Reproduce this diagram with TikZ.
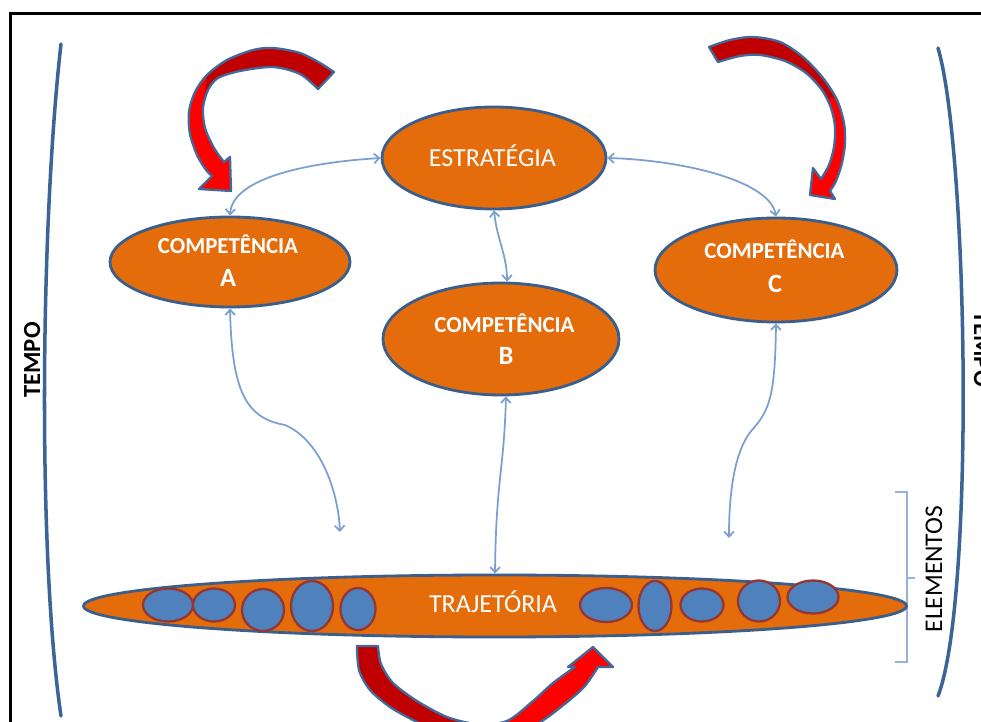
\documentclass[tikz,border=0pt]{standalone}
\usepackage{fontspec}
\setmainfont{Carlito}
\usetikzlibrary{shapes.geometric,arrows.meta,calc}

\definecolor{orangefill}{HTML}{E46C0A}
\definecolor{nodeborder}{HTML}{3A5F8C}
\definecolor{linkblue}{HTML}{7AA0D2}
\definecolor{bracketblue}{HTML}{3B6597}
\definecolor{elemblue}{HTML}{95B3D7}
\definecolor{dotfill}{HTML}{4F81BD}
\definecolor{dotborder}{HTML}{943634}
\definecolor{arrowred}{HTML}{FF0000}
\definecolor{arrowdark}{HTML}{C00000}
\definecolor{arrowedge}{HTML}{41699A}

% outlines of the three curved block arrows (pixel grid, y pointing down)
\newcommand\cycleTL{(334,72) -- plot[smooth] coordinates {(334,72) (320,63) (300,53) (273,48) (253,50) (227,60) (207,75) (195,92) (189,112) (190,134) (197,155) (206,170) (212,176)}
  -- (199,189) -- (231,191) -- (230,157) -- (224,162)
  -- plot[smooth] coordinates {(224,162) (214,148) (205,128) (203,108) (208,90) (218,78) (240,71) (273,67) (300,74) (318,89)} -- cycle}
\newcommand\cycleTR{(709,47) -- plot[smooth] coordinates {(709,47) (730,40) (753,37) (780,42) (803,57) (823,78) (837,100) (844,123) (845,143) (842,163) (836,181) (830,191)}
  -- (835,199) -- (810,195) -- (813,168) -- (821,179)
  -- plot[smooth] coordinates {(821,179) (829,165) (834,147) (835,127) (831,108) (822,90) (806,73) (785,61) (760,55) (740,56) (718,62)} -- cycle}
\newcommand\cycleBT{(357,646) -- (378,646)
  -- plot[smooth] coordinates {(378,646) (381,664) (393,683) (417,701) (447,717) (477,724) (507,721) (533,701) (553,683) (575,667)}
  -- (568,667) -- (593,647) -- (613,667) -- (598,667)
  -- plot[smooth] coordinates {(598,667) (584,687) (561,707) (537,724) (505,737) (475,741) (445,735) (413,720) (390,707) (370,690) (359,670) (357,646)} -- cycle}

\tikzset{
  bubble/.style={ellipse, draw=nodeborder, line width=1.6pt, fill=orangefill, inner sep=0pt},
  boxsize/.style 2 args={minimum width=#1*0.02cm, minimum height=#2*0.02cm},
  dot/.style={ellipse, draw=dotborder, line width=1.3pt, fill=dotfill, inner sep=0pt},
  link/.style={draw=linkblue, line width=1pt,
    {Straight Barb[length=3pt,width=5.5pt]}-{Straight Barb[length=3pt,width=5.5pt]}},
  captxt/.style={text=white, anchor=base, inner sep=0pt, font=\bfseries\fontsize{13}{15}\selectfont},
  lettertxt/.style={text=white, anchor=base, inner sep=0pt, font=\bfseries\fontsize{15}{17}\selectfont},
  plaintxt/.style={text=white, anchor=base, inner sep=0pt, font=\fontsize{14.8}{17}\selectfont},
  sidetxt/.style={text=black, anchor=base, inner sep=0pt},
  arrowline/.style={draw=arrowedge, line width=1.3pt, line join=round},
  timeline/.style={draw=bracketblue, line width=2pt, line cap=round},
}

\begin{document}
\begin{tikzpicture}[x=0.02cm, y=-0.02cm]
\useasboundingbox (0,0) rectangle (981,722);
\clip (0,0) rectangle (981,722);
\fill[white] (0,0) rectangle (981,722);

% frame
\draw[black, line width=1.7pt] (10.5,730) -- (10.5,13.5) -- (990,13.5);

% time brackets
\draw[timeline] (61,44) .. controls (40,230) and (38,560) .. (61,716);
\draw[timeline] (938,48) .. controls (968,150) and (975,600) .. (938,696);
\node[sidetxt, rotate=90, font=\bfseries\fontsize{14}{16}\selectfont] (tempoL) at (40,360) {TEMPO};
\node[sidetxt, rotate=-90, font=\bfseries\fontsize{14}{16}\selectfont] (tempoR) at (974,349) {TEMPO};

% elements bracket
\draw[elemblue, line width=1pt] (895,492) -- (907,492) -- (907,662) -- (895,662);
\draw[elemblue, line width=1pt] (907,578) -- (915,578);
\node[sidetxt, rotate=90, font=\fontsize{14.5}{16}\selectfont] (elem) at (942,569) {ELEMENTOS};

% curved block arrows
\fill[arrowred] \cycleTL;
\begin{scope}
  \clip \cycleTL;
  \fill[arrowdark] (212,30) -- (360,30) -- (360,100) -- (204,100) -- cycle;
\end{scope}
\draw[arrowline] \cycleTL;

\fill[arrowred] \cycleTR;
\begin{scope}
  \clip \cycleTR;
  \fill[arrowdark] (700,20) -- (860,20) -- (860,88) -- (826,100) -- (700,100) -- cycle;
\end{scope}
\draw[arrowline] \cycleTR;

\fill[arrowred] \cycleBT;
\begin{scope}
  \clip \cycleBT;
  \fill[arrowdark] (340,630) rectangle (488,760);
\end{scope}
\draw[arrowline] \cycleBT;

% main nodes
\node[bubble, boxsize={224}{102}] (estr) at (494,158) {};
\node[bubble, boxsize={240}{90}] (compA) at (230,262) {};
\node[bubble, boxsize={236}{112}] (compB) at (501,339) {};
\node[bubble, boxsize={242}{104}] (compC) at (776,270) {};
\node[bubble, boxsize={823}{62}] (traj) at (495,606) {};

\node[plaintxt] (estrtxt) at (492.5,167) {ESTRATÉGIA};
\node[captxt] (compAtxt) at (228,253.5) {COMPETÊNCIA};
\node[lettertxt] (compAlet) at (228,286.5) {A};
\node[captxt] (compBtxt) at (504.5,333) {COMPETÊNCIA};
\node[lettertxt] (compBlet) at (506,365) {B};
\node[captxt] (compCtxt) at (774.5,259) {COMPETÊNCIA};
\node[lettertxt] (compClet) at (775,293) {C};

% elements along the trajectory
\node[dot, boxsize={50}{33}] (e1) at (168,605) {};
\node[dot, boxsize={42}{33}] (e2) at (214,605) {};
\node[dot, boxsize={42}{42}] (e3) at (263,610) {};
\node[dot, boxsize={42}{50}] (e4) at (312,606) {};
\node[dot, boxsize={35}{42}] (e5) at (358,609) {};
\node[dot, boxsize={52}{34}] (e6) at (606,605) {};
\node[dot, boxsize={33}{50}] (e7) at (655,606) {};
\node[dot, boxsize={43}{33}] (e8) at (702,605) {};
\node[dot, boxsize={42}{41}] (e9) at (759,601) {};
\node[dot, boxsize={51}{33}] (e10) at (813,597) {};
\node[plaintxt] (trajtxt) at (493,613) {TRAJETÓRIA};

% free ends of the competence links
\coordinate (endA) at (340,532);
\coordinate (endC) at (729,538);

% links
\draw[link] (estr.west) .. controls (300,163) and (232,180) .. (compA.north);
\draw[link] (estr.east) .. controls (680,160) and (770,180) .. (compC.north);
\draw[link] (estr.south) .. controls (497,240) and (507,255) .. ($(compB.north)+(6,0)$);
\draw[link] (compA.south) .. controls (232,390) and (245,418) .. (285,425)
  .. controls (320,440) and (338,490) .. (endA);
\draw[link] ($(compB.south)+(5,0)$) .. controls (504,470) and (496,480) .. (traj.north);
\draw[link] (compC.south) .. controls (775,395) and (770,410) .. (752,430)
  .. controls (735,450) and (729,490) .. (endC);
\end{tikzpicture}
\end{document}
